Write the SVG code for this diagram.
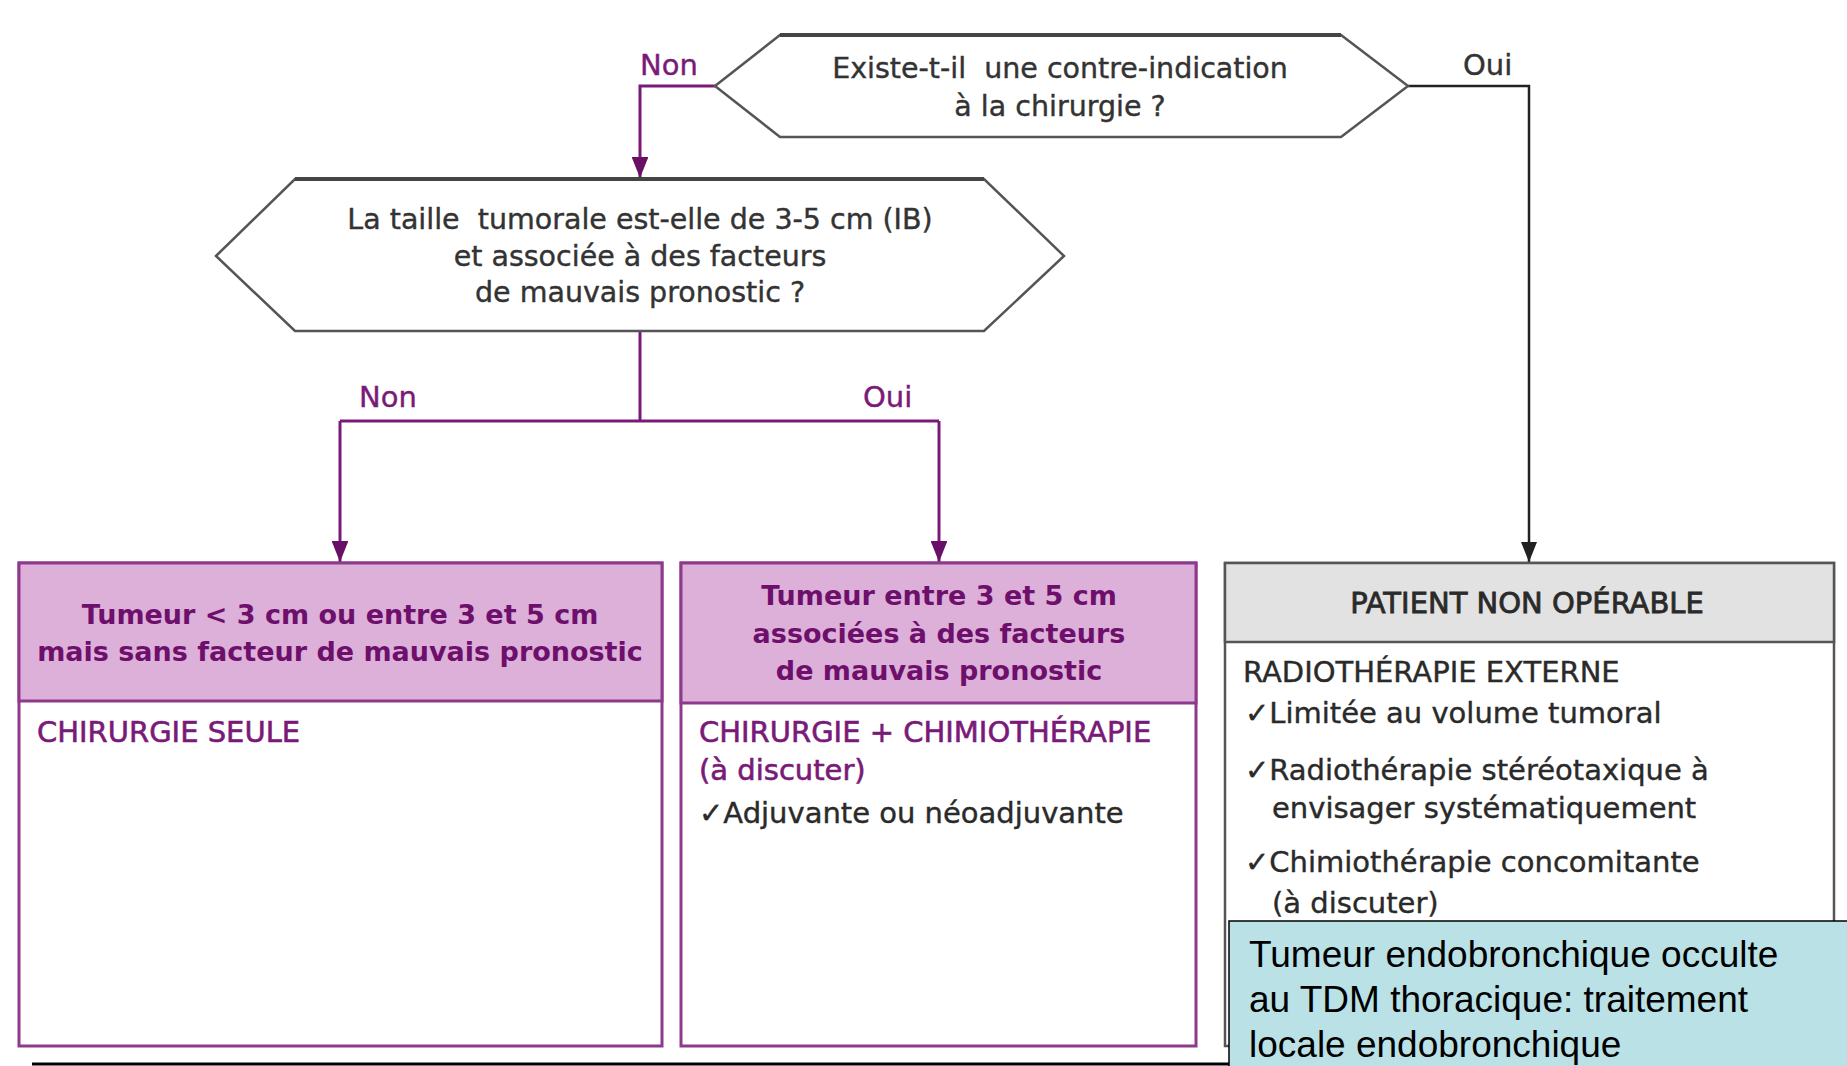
<svg xmlns="http://www.w3.org/2000/svg" width="1847" height="1066" viewBox="0 0 1847 1066">
<style>
.t{font-family:"DejaVu Sans",sans-serif;}
.q{fill:#333;stroke:#333;stroke-width:0.4;font-size:28.5px;text-anchor:middle;}
.lbP{fill:#7a1a78;stroke:#7a1a78;stroke-width:0.4;font-size:29px;}
.lbG{fill:#333;stroke:#333;stroke-width:0.4;font-size:29px;}
.hd{fill:#6e0f6c;font-size:27px;font-weight:bold;text-anchor:middle;}
.bdP{fill:#7a1a78;stroke:#7a1a78;stroke-width:0.6;font-size:29px;}
.bdG{fill:#2a2a2a;stroke:#2a2a2a;stroke-width:0.4;font-size:29px;}
.hex{fill:#fff;stroke:#555;stroke-width:2.5;}
.pbox{fill:#fff;stroke:#8e3a8c;stroke-width:3;}
.phd{fill:#dcb0d9;stroke:#8e3a8c;stroke-width:3;}
.gbox{fill:#fff;stroke:#555;stroke-width:2.5;}
.ghd{fill:#e2e2e2;stroke:#555;stroke-width:2.5;}
.cp{fill:none;stroke:#7a1a78;stroke-width:3;}
.cg{fill:none;stroke:#222;stroke-width:2.5;}
.note{font-family:"Liberation Sans",Arial,sans-serif;font-size:37px;fill:#000;}
</style>
<defs>
<marker id="ap" viewBox="0 0 10 8" refX="10" refY="4" markerWidth="7" markerHeight="5.6" markerUnits="strokeWidth" orient="auto"><path d="M0,0 L10,4 L0,8 z" fill="#6a0f68"/></marker>
<marker id="ag" viewBox="0 0 10 8" refX="10" refY="4" markerWidth="8" markerHeight="6.4" markerUnits="strokeWidth" orient="auto"><path d="M0,0 L10,4 L0,8 z" fill="#222"/></marker>
</defs>
<rect width="1847" height="1066" fill="#fff"/>
<g id="connectors">
<path class="cp" d="M715,86 H640 V178" marker-end="url(#ap)"/>
<path class="cg" d="M1408,86 H1529 V562" marker-end="url(#ag)"/>
<path class="cp" d="M640,331 V421"/>
<path class="cp" d="M340,421 H939"/>
<path class="cp" d="M340,421 V562" marker-end="url(#ap)"/>
<path class="cp" d="M939,421 V562" marker-end="url(#ap)"/>
<text class="t lbP" x="640" y="75">Non</text>
<text class="t lbG" x="1463" y="75">Oui</text>
<text class="t lbP" x="359" y="407">Non</text>
<text class="t lbP" x="863" y="407">Oui</text>
</g>
<g id="q1">
<polygon class="hex" points="715,86 780,35 1341,35 1408,86 1341,137 780,137"/>
<path d="M780,35 H1341" stroke="#444" stroke-width="4"/>
<text class="t q" x="1060" y="78" xml:space="preserve">Existe-t-il  une contre-indication</text>
<text class="t q" x="1060" y="116">à la chirurgie ?</text>
</g>
<g id="q2">
<polygon class="hex" points="216,256 295,179 984,179 1064,256 984,331 295,331"/>
<path d="M295,179 H984" stroke="#444" stroke-width="4"/>
<text class="t q" x="640" y="229" xml:space="preserve">La taille  tumorale est-elle de 3-5 cm (IB)</text>
<text class="t q" x="640" y="266">et associée à des facteurs</text>
<text class="t q" x="640" y="302">de mauvais pronostic ?</text>
</g>
<g id="box1">
<rect class="pbox" x="19" y="563" width="643" height="483"/>
<rect class="phd" x="19" y="563" width="643" height="138"/>
<text class="t hd" x="340" y="624">Tumeur &lt; 3 cm ou entre 3 et 5 cm</text>
<text class="t hd" x="340" y="661">mais sans facteur de mauvais pronostic</text>
<text class="t bdP" x="37" y="742">CHIRURGIE SEULE</text>
</g>
<g id="box2">
<rect class="pbox" x="681" y="563" width="515" height="483"/>
<rect class="phd" x="681" y="563" width="515" height="140"/>
<text class="t hd" x="939" y="605">Tumeur entre 3 et 5 cm</text>
<text class="t hd" x="939" y="643">associées à des facteurs</text>
<text class="t hd" x="939" y="680">de mauvais pronostic</text>
<text class="t bdP" x="699" y="742">CHIRURGIE + CHIMIOTHÉRAPIE</text>
<text class="t bdP" x="699" y="780">(à discuter)</text>
<text class="t bdG" x="699" y="823">✓Adjuvante ou néoadjuvante</text>
</g>
<g id="box3">
<rect class="gbox" x="1225" y="563" width="609" height="483"/>
<rect class="ghd" x="1225" y="563" width="609" height="79"/>
<text class="t bdG" x="1527" y="613" text-anchor="middle" style="stroke-width:0.8">PATIENT NON OPÉRABLE</text>
<text class="t bdG" x="1243" y="682">RADIOTHÉRAPIE EXTERNE</text>
<text class="t bdG" x="1245" y="723">✓Limitée au volume tumoral</text>
<text class="t bdG" x="1245" y="780">✓Radiothérapie stéréotaxique à</text>
<text class="t bdG" x="1272" y="818">envisager systématiquement</text>
<text class="t bdG" x="1245" y="872">✓Chimiothérapie concomitante</text>
<text class="t bdG" x="1272" y="913">(à discuter)</text>
</g>
<g id="note">
<rect x="1229" y="921" width="625" height="150" fill="#b9e1e6" stroke="#000" stroke-width="1.5"/>
<text class="note" x="1249" y="967">Tumeur endobronchique occulte</text>
<text class="note" x="1249" y="1012">au TDM thoracique: traitement</text>
<text class="note" x="1249" y="1057">locale endobronchique</text>
</g>
<path d="M32,1064 H1229" stroke="#000" stroke-width="3"/>
</svg>
